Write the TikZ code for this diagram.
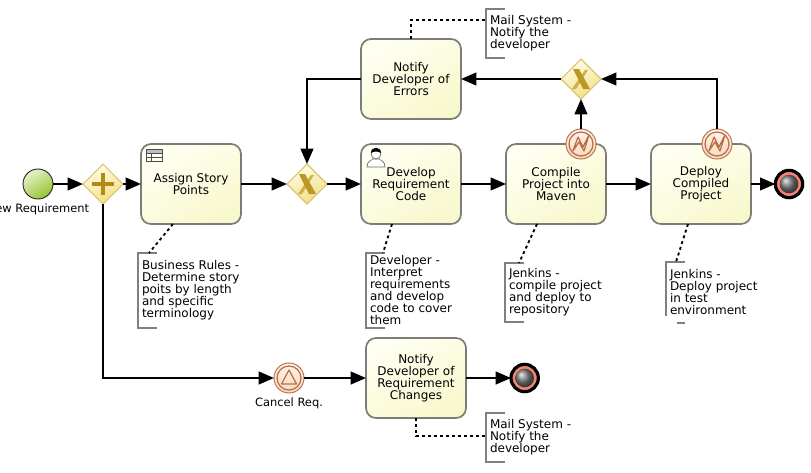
\documentclass[tikz,border=0pt]{standalone}
\usepackage{fontspec}
\setmainfont{DejaVu Sans}
\usetikzlibrary{positioning,shapes.geometric,arrows.meta}

\definecolor{taskline}{HTML}{7C7C78}
\definecolor{taskpale}{HTML}{FFFFF2}
\definecolor{taskdeep}{HTML}{F8F8CE}
\definecolor{gwline}{HTML}{DBC372}
\definecolor{gwpale}{HTML}{FFFDE6}
\definecolor{gwdeep}{HTML}{F2DE84}
\definecolor{gwmark}{HTML}{B18C14}
\definecolor{evline}{HTML}{B86B45}
\definecolor{evpale}{HTML}{FDF3EA}
\definecolor{evdeep}{HTML}{F6D9BE}
\definecolor{startpale}{HTML}{E6F2CE}
\definecolor{startdeep}{HTML}{96C42E}
\definecolor{endring}{HTML}{F58472}
\definecolor{noteline}{HTML}{808080}

\tikzset{
  every node/.style={font=\fontsize{9}{9}\selectfont, outer sep=0pt},
  task/.style={rectangle, rounded corners=7.5pt, draw=taskline, line width=1.3pt,
    minimum width=75pt, minimum height=60pt, inner sep=0pt, align=center,
    top color=taskpale, bottom color=taskdeep, shading angle=30},
  gateway/.style={diamond, aspect=1, draw=gwline, line width=0.8pt, inner sep=0pt,
    minimum size=30pt, top color=gwpale, bottom color=gwdeep, shading angle=25},
  startev/.style={circle, draw=black!85, line width=0.7pt, inner sep=0pt, minimum size=22.5pt,
    top color=startpale, bottom color=startdeep, shading angle=35},
  endev/.style={circle, draw=black, line width=2.4pt, fill=endring, inner sep=0pt,
    minimum size=20.5pt},
  catchev/.style={circle, draw=evline, line width=0.7pt, inner sep=0pt, minimum size=22.5pt,
    top color=evpale, bottom color=evdeep},
  evmark/.style={draw=evline, line width=0.9pt, line join=round},
  evlabel/.style={inner sep=0pt, font=\fontsize{8.6}{9}\selectfont},
  annot/.style={anchor=north west, align=left, inner xsep=3pt, inner ysep=0pt},
  flow/.style={draw=black, line width=1.6pt, -{Triangle[length=11.5pt,width=9.5pt]}},
  assoc/.style={draw=black, line width=1.4pt, dash pattern=on 2.2pt off 2.3pt},
  bracket/.style={draw=noteline, line width=1.1pt},
}

\begin{document}
\begin{tikzpicture}[x=0.75pt,y=-0.75pt]
\useasboundingbox (0,0) rectangle (811,472);

% Nodes
% main row
\node[startev] (start) at (38,184) {};
\node[gateway, right = 22.5pt of start] (gwPlus) {};
\node[task, right = 13.5pt of gwPlus] (assign) {Assign Story\\Points};
\node[gateway, right = 34.5pt of assign] (gwJoin) {};
\node[task, right = 25.5pt of gwJoin] (develop) {Develop\\Requirement\\Code};
\node[task, right = 33.75pt of develop] (compile) {Compile\\Project into\\Maven};
\node[task, right = 33.75pt of compile] (deploy) {Deploy\\Compiled\\Project};
\node[endev, right = 18.25pt of deploy] (finish) {};

% upper row
\node[task, above = 18.75pt of develop] (notify) {Notify\\Developer of\\Errors};
\node[gateway, right = 75pt of notify] (gwErr) {};
\node[catchev] (compileErr) at ([xshift=18.75pt]compile.north) {};
\node[catchev] (deployErr) at ([xshift=12pt]deploy.north) {};

% lower row
\node[task, below = 85.5pt of develop, xshift=3.75pt] (changes) {Notify\\Developer of\\Requirement\\Changes};
\node[catchev, left = 46.5pt of changes] (cancelReq) {};
\node[endev, right = 33.75pt of changes] (finishLow) {};

% labels
\node[evlabel, below = 3.5pt of start] (startLabel) {New Requirement};
\node[evlabel, below = 3.5pt of cancelReq] (cancelLabel) {Cancel Req.};

% annotations
\node[annot, minimum height=36.75pt, below right = -22.5pt and 18.75pt of notify.north east] (mailTop)
  {Mail System -\\Notify the\\developer};
\node[annot, minimum height=56.25pt, below right = 21.75pt and -2.25pt of assign.south west] (rulesNote)
  {Business Rules -\\Determine story\\poits by length\\and specific\\terminology};
\node[annot, minimum height=56.25pt, below right = 21.75pt and 3.75pt of develop.south west] (devNote)
  {Developer -\\Interpret\\requirements\\and develop\\code to cover\\them};
\node[annot, minimum height=44.25pt, below right = 29.25pt and -0.75pt of compile.south west] (buildNote)
  {Jenkins -\\compile project\\and deploy to\\repository};
\node[annot, minimum height=45.75pt, below right = 28.5pt and 11.25pt of deploy.south west] (deployNote)
  {Jenkins -\\Deploy project\\in test\\environment};
\node[annot, minimum height=36.75pt, below right = -3.75pt and 15pt of changes.south east] (mailLow)
  {Mail System -\\Notify the\\developer};

% brackets
\foreach \n in {mailTop,rulesNote,devNote,buildNote,mailLow}
  \draw[bracket] ([xshift=14.25pt]\n.north west) -| (\n.south west) -- ++(14.25pt,0);
\draw[bracket] ([xshift=14.25pt]deployNote.north west) -- (deployNote.north west) -- ([yshift=5.5pt]deployNote.south west);
\draw[bracket] ([xshift=8.25pt]deployNote.south west) -- ([xshift=14.25pt]deployNote.south west);

% event marks
\foreach \n in {compileErr,deployErr,cancelReq}
  \draw[evmark] (\n) circle (9pt);
\foreach \n in {compileErr,deployErr}
  \draw[evmark, shift={(\n)}] (-8,7) -- (-3,-7) -- (2,3) -- (8,-9) -- (3,7) -- (-2,-2) -- cycle;
\draw[evmark, shift={(cancelReq)}] (0,-8) -- (7.5,6) -- (-7.5,6) -- cycle;
\foreach \n in {finish,finishLow}
  \shade[ball color=black!50] (\n) circle (7pt);

% gateway marks
\draw[gwmark, line width=3.4pt] ([xshift=-8pt]gwPlus.center) -- ([xshift=8pt]gwPlus.center);
\draw[gwmark, line width=3.4pt] ([yshift=-8pt]gwPlus.center) -- ([yshift=8pt]gwPlus.center);
\foreach \n in {gwJoin,gwErr} {
  \fill[gwmark!55!gwdeep, shift={(\n)}] (4,-9) -- (7,-9) -- (-5,10) -- (-9,10) -- cycle;
  \fill[gwmark!85!gwdeep, shift={(\n)}] (-8,-10) -- (-2,-10) -- (9,10) -- (2,10) -- cycle;
}

% task icons
\begin{scope}[shift={(assign.north west)}, draw=black!70, line width=0.5pt]
\fill[black!25] (5,5) rectangle (21,9);
\draw (5,5) rectangle (21,17);
\draw (5,9) -- (21,9) (5,13) -- (21,13) (10,9) -- (10,17);
\end{scope}
\begin{scope}[shift={(develop.north west)}, line width=0.5pt]
\draw[black!60, fill=white] (6,23) .. controls (6,17) and (10,17) .. (12,15) -- (18,15) .. controls (20,17) and (24,17) .. (24,23) -- cycle;
\draw[black!60, fill=white] (15,10) circle (3.7pt);
\fill[black] (10,9) .. controls (10,2) and (20,2) .. (20,9) .. controls (17,7) and (13,7) .. (10,9) -- cycle;
\end{scope}

% Edges
\draw[flow] (start) -- (gwPlus);
\draw[flow] (gwPlus) -- (assign);
\draw[flow] (assign) -- (gwJoin);
\draw[flow] (gwJoin) -- (develop);
\draw[flow] (develop) -- (compile);
\draw[flow] (compile) -- (deploy);
\draw[flow] (deploy) -- (finish);
\draw[flow] (compileErr) -- (gwErr);
\draw[flow] (deployErr) |- (gwErr);
\draw[flow] (gwErr) -- (notify);
\draw[flow] (notify) -| (gwJoin);
\draw[flow] (gwPlus) |- (cancelReq);
\draw[flow] (cancelReq) -- (changes);
\draw[flow] (changes) -- (finishLow);

% associations
\draw[assoc] ([xshift=-13.5pt]assign.south) -- ([xshift=8.25pt]rulesNote.north west);
\draw[assoc] ([xshift=-14.25pt]develop.south) -- ([xshift=12.75pt]devNote.north west);
\draw[assoc] ([xshift=-14.25pt]compile.south) -- ([xshift=10.5pt]buildNote.north west);
\draw[assoc] ([xshift=-9.75pt]deploy.south) -- ([xshift=7.5pt]deployNote.north west);
\draw[assoc] (notify.north) |- ([yshift=10.1pt]mailTop.west);
\draw[assoc] (changes.south) |- ([yshift=1.1pt]mailLow.west);

\end{tikzpicture}
\end{document}
